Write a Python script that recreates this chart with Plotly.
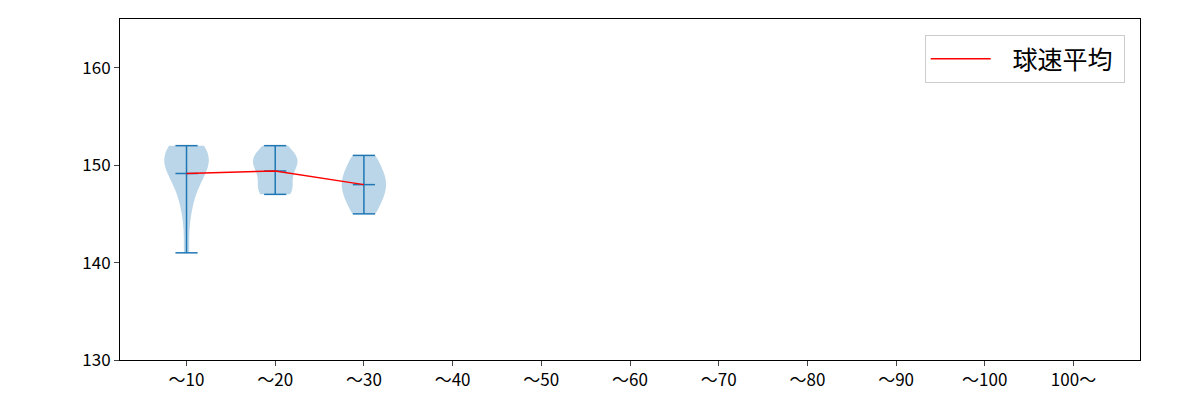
import numpy as np
import plotly.graph_objects as go

# 投球数ごとの球速分布
categories = ["～10", "～20", "～30", "～40", "～50", "～60", "～70", "～80", "～90", "～100", "100～"]
speeds = {
    "～10": [141, 145, 147, 148, 149, 150, 150, 150, 151, 151, 151, 151, 152, 152],
    "～20": [147, 147, 148, 148, 150, 150, 150, 151, 151, 152],
    "～30": [145, 146, 147, 148, 148, 149, 150, 151],
}
y_ticks = [130, 140, 150, 160]

BLUE = "#1f77b4"
fig = go.Figure()

mean_x, mean_y = [], []
for i, cat in enumerate(categories, start=1):
    vals = speeds.get(cat)
    if not vals:
        continue
    arr = np.array(vals, dtype=float)
    # matplotlib の Scott 則に合わせた帯域幅
    bw = arr.std(ddof=1) * len(arr) ** (-1 / 5)
    fig.add_trace(go.Violin(
        x=[i] * len(arr), y=arr, width=0.5, bandwidth=bw,
        spanmode="hard", points=False, fillcolor="rgba(31,119,180,0.3)",
        line=dict(width=0, color="rgba(31,119,180,0)"), meanline_visible=False,
        box_visible=False, hoverinfo="skip", showlegend=False, scalemode="width",
    ))
    lo, hi, mu = arr.min(), arr.max(), arr.mean()
    # 縦線 + 上下端 + 平均のキャップ
    fig.add_trace(go.Scatter(
        x=[i, i, None, i - 0.125, i + 0.125, None, i - 0.125, i + 0.125, None, i - 0.125, i + 0.125],
        y=[lo, hi, None, lo, lo, None, hi, hi, None, mu, mu],
        mode="lines", line=dict(color=BLUE, width=1.5), hoverinfo="skip", showlegend=False,
    ))
    mean_x.append(i)
    mean_y.append(mu)

fig.add_trace(go.Scatter(
    x=mean_x, y=mean_y, mode="lines", name="\u00a0\u00a0\u00a0球速平均\u00a0",
    line=dict(color="red", width=1.5),
))

fig.update_layout(
    width=1200, height=400,
    margin=dict(l=112, r=68, t=11, b=48),
    plot_bgcolor="white", paper_bgcolor="white",
    font=dict(family="Noto Sans CJK JP", size=17, color="black"),
    legend=dict(x=0.985, y=0.953, xanchor="right", yanchor="top",
                bordercolor="#cccccc", borderwidth=1, bgcolor="white",
                font=dict(size=25), itemwidth=60),
    violingap=0, violinmode="overlay",
)
fig.update_xaxes(
    range=[0.25, 11.75], tickvals=list(range(1, len(categories) + 1)), ticktext=categories,
    showline=True, linecolor="black", mirror=True, ticks="outside", ticklen=5,
    showgrid=False, zeroline=False,
)
fig.update_yaxes(
    range=[130, 165], tickvals=y_ticks,
    showline=True, linecolor="black", mirror=True, ticks="outside", ticklen=5,
    showgrid=False, zeroline=False,
)

fig.write_html("out.html")
